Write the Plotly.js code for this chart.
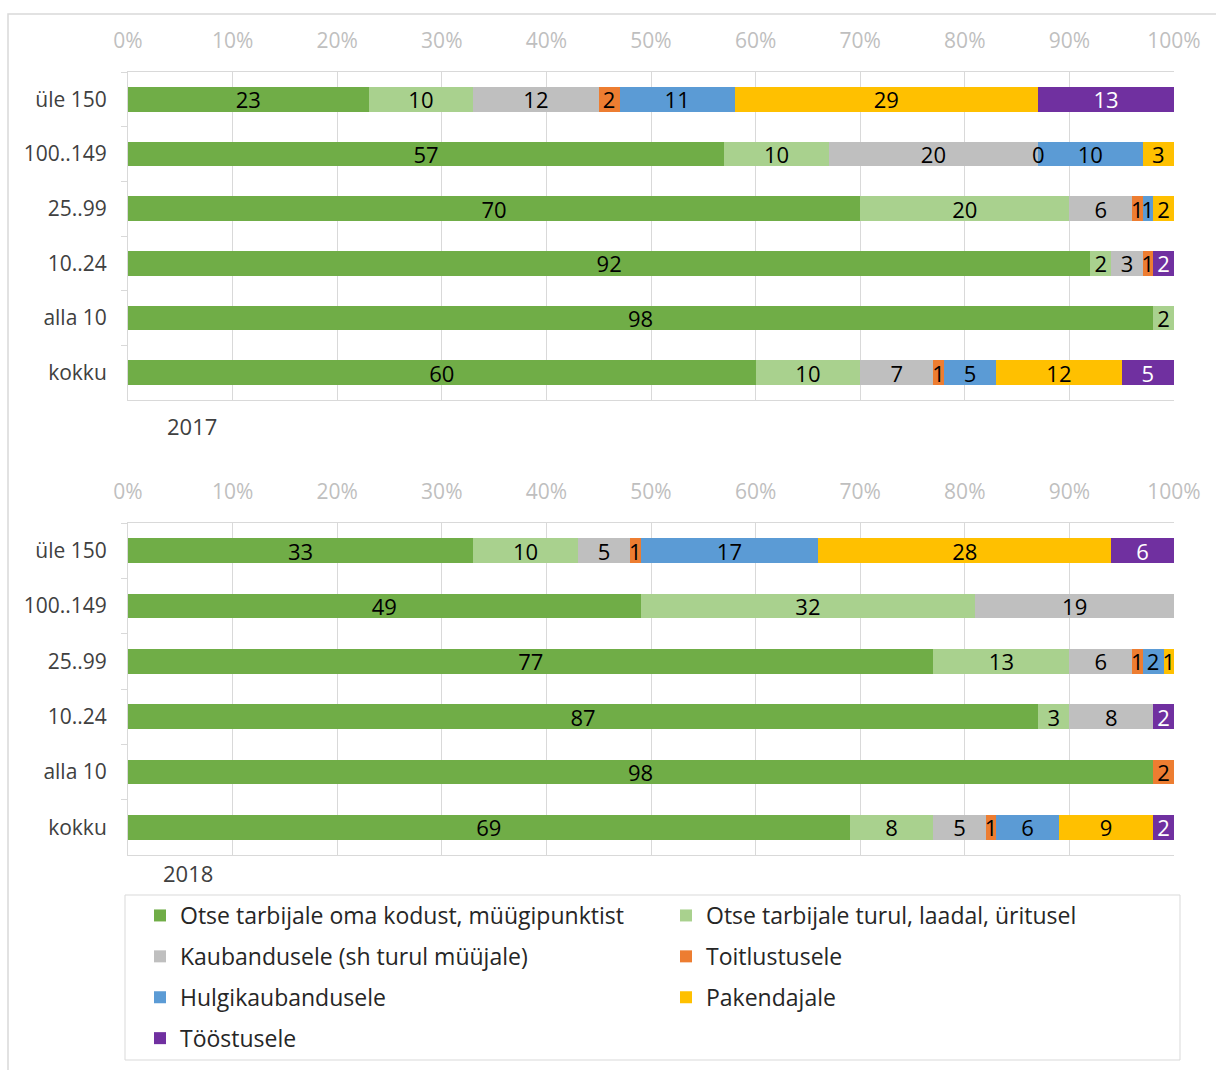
<!DOCTYPE html>
<html>
<head>
<meta charset="utf-8">
<script src="https://cdn.plot.ly/plotly-3.0.1.min.js"></script>
<style>html,body{margin:0;padding:0;background:#fff;}#chart{width:1216px;height:1070px;}</style>
</head>
<body>
<div id="chart"></div>
<script>
// ---- data ----
const categories = ['üle 150', '100..149', '25..99', '10..24', 'alla 10', 'kokku'];
const seriesNames = [
  'Otse tarbijale oma kodust, müügipunktist',
  'Otse tarbijale turul, laadal, üritusel',
  'Kaubandusele (sh turul müüjale)',
  'Toitlustusele',
  'Hulgikaubandusele',
  'Pakendajale',
  'Tööstusele'
];
const xTicks = [0, 10, 20, 30, 40, 50, 60, 70, 80, 90, 100];
const yearLabels = ['2017', '2018'];

const home2017      = [23, 57, 70, 92, 98, 60];
const market2017    = [10, 10, 20, 2, 2, 10];
const trade2017     = [12, 20, 6, 3, null, 7];
const catering2017  = [2, 0, 1, 1, null, 1];
const wholesale2017 = [11, 10, 1, null, null, 5];
const packer2017    = [29, 3, 2, null, null, 12];
const industry2017  = [13, null, null, 2, null, 5];

const home2018      = [33, 49, 77, 87, 98, 69];
const market2018    = [10, 32, 13, 3, null, 8];
const trade2018     = [5, 19, 6, 8, null, 5];
const catering2018  = [1, null, 1, null, 2, 1];
const wholesale2018 = [17, null, 2, null, null, 6];
const packer2018    = [28, null, 1, null, null, 9];
const industry2018  = [6, null, null, 2, null, 2];

// ---- styling ----
const colors = ['#70ad47', '#a9d18e', '#bfbfbf', '#ed7d31', '#5b9bd5', '#ffc000', '#7030a0'];
const labelColors = ['#000', '#000', '#000', '#000', '#000', '#000', '#fff'];
const FONT = 'Open Sans, sans-serif';

const years = [
  [home2017, market2017, trade2017, catering2017, wholesale2017, packer2017, industry2017],
  [home2018, market2018, trade2018, catering2018, wholesale2018, packer2018, industry2018]
];

const traces = [];
const annotations = [];
years.forEach((series, yi) => {
  const xa = yi === 0 ? 'x' : 'x2';
  const ya = yi === 0 ? 'y' : 'y2';
  series.forEach((vals, si) => {
    traces.push({
      type: 'bar',
      orientation: 'h',
      name: seriesNames[si],
      legendgroup: 'g' + si,
      showlegend: yi === 0,
      x: vals,
      y: categories,
      xaxis: xa,
      yaxis: ya,
      marker: {color: colors[si], line: {width: 0}},
      text: vals.map(v => (v === null ? '' : String(v))),
      textposition: 'inside',
      insidetextanchor: 'middle',
      textangle: 0,
      textfont: {family: FONT, size: 22, color: labelColors[si]},
      hoverinfo: 'skip'
    });
  });
  // labels for zero-width segments (drawn at their stack position)
  categories.forEach((cat, ci) => {
    let cum = 0;
    series.forEach((vals, si) => {
      const v = vals[ci];
      if (v === 0) {
        annotations.push({
          xref: xa, yref: ya, x: cum, y: cat, text: '0', showarrow: false,
          font: {family: FONT, size: 22, color: labelColors[si]}
        });
      }
      if (v !== null) cum += v;
    });
  });
});

yearLabels.forEach((t, i) => {
  annotations.push({
    xref: 'paper', yref: 'paper', x: (i === 0 ? 192 : 188) / 1216, y: 1 - (i === 0 ? 426 : 873) / 1070,
    text: t, showarrow: false, xanchor: 'center', yanchor: 'middle',
    font: {family: FONT, size: 22, color: '#404040'}
  });
});

const W = 1216, H = 1070;
const xDom = [128 / W, 1174 / W];
function xAxis(anchor) {
  return {
    domain: xDom, anchor: anchor, side: 'top', range: [0, 100],
    tickvals: xTicks, ticktext: xTicks.map(v => v + '%'),
    showgrid: true, gridcolor: '#d9d9d9', gridwidth: 1,
    showline: true, linecolor: '#d9d9d9', linewidth: 1, mirror: true,
    zeroline: false, ticks: '', ticklabelstandoff: 15,
    tickfont: {family: FONT, size: 21, color: '#bfbfbf'}, fixedrange: true
  };
}
function yAxis(dom, anchor) {
  return {
    domain: dom, anchor: anchor, type: 'category', autorange: 'reversed',
    showline: true, linecolor: '#d9d9d9', linewidth: 1, mirror: false,
    ticks: 'outside', tickson: 'boundaries', ticklen: 6, tickcolor: '#d9d9d9',
    showgrid: false, zeroline: false, ticklabelstandoff: 16,
    tickfont: {family: FONT, size: 21, color: '#404040'}, fixedrange: true
  };
}

const layout = {
  width: W, height: H,
  margin: {l: 0, r: 0, t: 0, b: 0},
  paper_bgcolor: '#fff', plot_bgcolor: '#fff',
  font: {family: FONT, color: '#404040'},
  barmode: 'stack', bargap: 0.55,
  hovermode: false,
  uniformtext: {mode: 'show', minsize: 22},
  xaxis: xAxis('y'),
  yaxis: yAxis([1 - 400 / H, 1 - 72 / H], 'x'),
  xaxis2: xAxis('y2'),
  yaxis2: yAxis([1 - 855 / H, 1 - 523 / H], 'x2'),
  legend: {
    orientation: 'h', x: 140 / W, y: 1 - 894 / H, xanchor: 'left', yanchor: 'top',
    entrywidth: 481, entrywidthmode: 'pixels',
    traceorder: 'grouped', tracegroupgap: 8,
    borderwidth: 0, bgcolor: 'rgba(0,0,0,0)',
    font: {family: FONT, size: 23, color: '#262626'}
  },
  annotations: annotations,
  shapes: [
    {
      type: 'rect', xref: 'paper', yref: 'paper',
      x0: 8 / W, x1: 1.02, y0: -0.02, y1: 1 - 14 / H,
      line: {color: '#d9d9d9', width: 1.5}, fillcolor: 'rgba(0,0,0,0)', layer: 'below'
    },
    {
      type: 'rect', xref: 'paper', yref: 'paper',
      x0: 125 / W, x1: 1180 / W, y0: 1 - 1060 / H, y1: 1 - 895 / H,
      line: {color: '#d9d9d9', width: 1}, fillcolor: 'rgba(0,0,0,0)', layer: 'below'
    }
  ]
};

Plotly.newPlot('chart', traces, layout, {displayModeBar: false, staticPlot: true});
</script>
</body>
</html>
